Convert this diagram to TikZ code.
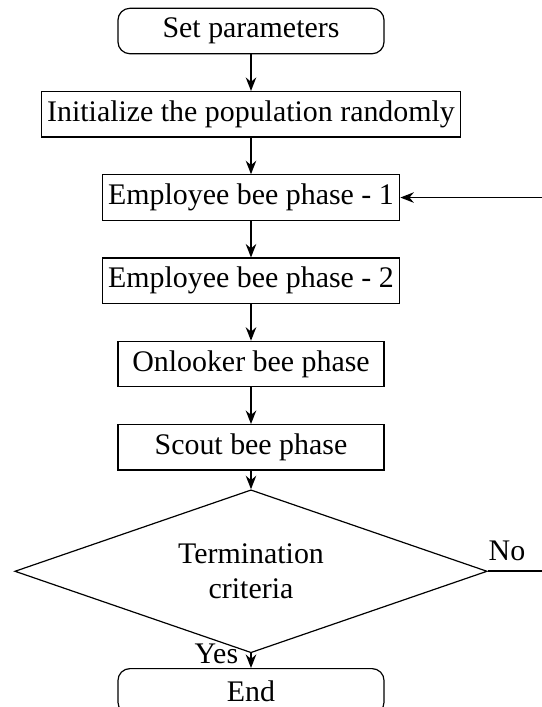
\documentclass[tikz,border=0pt]{standalone}
\usepackage{fontspec}
\setmainfont{Liberation Serif}
\usetikzlibrary{arrows.meta,positioning,shapes.geometric}

\begin{document}
\begin{tikzpicture}[x=0.33445pt,y=-0.33445pt,node distance=12.25pt,
  procbox/.style={draw,rectangle,minimum width=89pt,minimum height=15.2pt,
                  inner xsep=2pt,inner ysep=1pt,align=center},
  termbox/.style={procbox,rounded corners=4pt},
  decision/.style={draw,diamond,aspect=2.9,minimum width=158pt,
                   minimum height=54.5pt,inner sep=0pt,align=center},
  flow/.style={-{Stealth[length=4.5pt,width=3.5pt]},line width=0.6pt}]
  \useasboundingbox (0,0) rectangle (542,707);
  \clip (0,0) rectangle (542,707);

  \node[termbox] (set) at (251,31) {Set parameters};
  \node[procbox,below=of set] (init) {Initialize the population randomly};
  \node[procbox,below=of init] (emp1) {Employee bee phase - 1};
  \node[procbox,below=of emp1] (emp2) {Employee bee phase - 2};
  \node[procbox,below=of emp2] (onl) {Onlooker bee phase};
  \node[procbox,below=of onl] (scout) {Scout bee phase};
  \node[decision,below=6.2pt of scout] (dec) {Termination\\criteria};
  \node[termbox,below=4.9pt of dec] (end) {End};
  \coordinate (rim) at (542,0);

  \draw[flow] (set) -- (init);
  \draw[flow] (init) -- (emp1);
  \draw[flow] (emp1) -- (emp2);
  \draw[flow] (emp2) -- (onl);
  \draw[flow] (onl) -- (scout);
  \draw[flow] (scout) -- (dec);
  \draw[flow] (dec) -- node[pos=1,anchor=south east,inner xsep=4pt,inner ysep=1pt] {Yes} (end);
  % loop back (runs off the right edge)
  \draw[line width=0.6pt] (dec.east) node[anchor=south west,inner xsep=0pt] {No} -- (dec.east -| rim);
  \draw[flow] (emp1.east -| rim) -- (emp1.east);
\end{tikzpicture}
\end{document}
